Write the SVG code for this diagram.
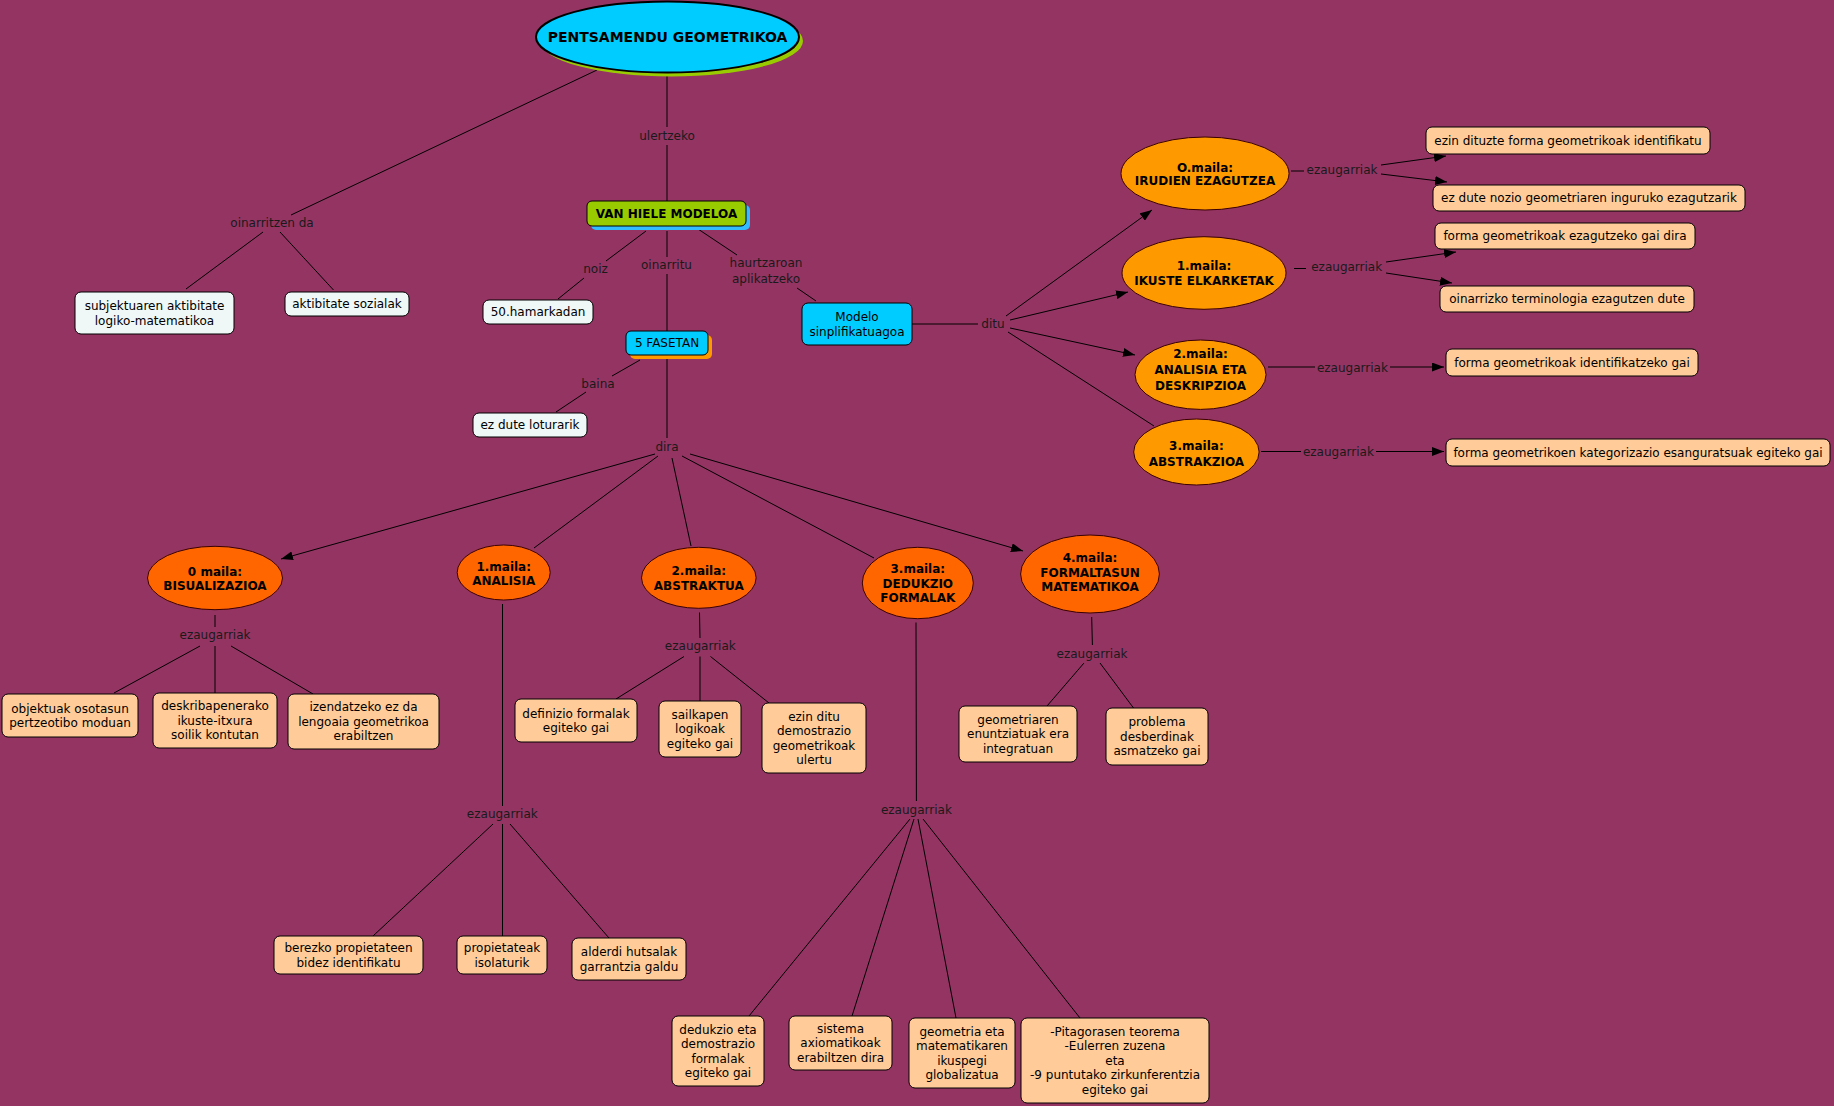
<svg xmlns="http://www.w3.org/2000/svg" width="1834" height="1106" viewBox="0 0 1834 1106">
<defs>
<style>
text{font-family:"DejaVu Sans",Verdana,sans-serif;font-size:12px;text-anchor:middle;fill:#000}
.b{font-weight:bold}
.lbl{fill:#1a1a1a}
.c line{stroke:#000;stroke-width:1}
.box{stroke:#000;stroke-width:1}
.peach{fill:#ffcc99}
.white{fill:#eff7f7}
.cyan{fill:#00ccff}
.lime{fill:#99cc00}
.o1{fill:#ff6600;stroke:#3a0000;stroke-width:1}
.o2{fill:#ff9900;stroke:#3a0000;stroke-width:1}
</style>
<marker id="ar" markerWidth="12" markerHeight="9" refX="12" refY="4.5" orient="auto" markerUnits="userSpaceOnUse">
<path d="M0,0 L12,4.5 L0,9 z" fill="#000"/>
</marker>
</defs>
<rect width="1834" height="1106" fill="#943462"/>

<g id="connectors" class="c">
<line x1="597" y1="70" x2="291" y2="215"/>
<line x1="263" y1="232" x2="186" y2="289"/>
<line x1="280" y1="232" x2="333.5" y2="290"/>
<line x1="667" y1="73" x2="667" y2="127"/>
<line x1="667" y1="145" x2="667" y2="201"/>
<line x1="646" y1="231" x2="606" y2="261"/>
<line x1="584" y1="278" x2="558" y2="299"/>
<line x1="667" y1="231" x2="667" y2="257"/>
<line x1="667" y1="274" x2="667" y2="331"/>
<line x1="698" y1="229" x2="737" y2="255"/>
<line x1="797" y1="288" x2="816" y2="301"/>
<line x1="640" y1="360" x2="612" y2="376"/>
<line x1="586" y1="392" x2="556" y2="412"/>
<line x1="667" y1="359" x2="667" y2="438"/>
<line x1="655" y1="454" x2="281" y2="559" marker-end="url(#ar)"/>
<line x1="658" y1="456" x2="534" y2="548"/>
<line x1="672" y1="458" x2="691" y2="546"/>
<line x1="682" y1="456" x2="874" y2="558"/>
<line x1="690" y1="454" x2="1023" y2="551" marker-end="url(#ar)"/>
<line x1="912" y1="324" x2="978" y2="324"/>
<line x1="1006" y1="316" x2="1152" y2="210" marker-end="url(#ar)"/>
<line x1="1010" y1="320" x2="1128" y2="292" marker-end="url(#ar)"/>
<line x1="1010" y1="328" x2="1135" y2="355" marker-end="url(#ar)"/>
<line x1="1008" y1="332" x2="1154" y2="426"/>
<line x1="1291" y1="171" x2="1304" y2="171"/>
<line x1="1381" y1="165" x2="1446" y2="156" marker-end="url(#ar)"/>
<line x1="1381" y1="174" x2="1447" y2="182" marker-end="url(#ar)"/>
<line x1="1294" y1="268.5" x2="1306" y2="268.5"/>
<line x1="1386" y1="262" x2="1456" y2="252" marker-end="url(#ar)"/>
<line x1="1386" y1="273" x2="1452" y2="283" marker-end="url(#ar)"/>
<line x1="1268" y1="367" x2="1315" y2="367"/>
<line x1="1390" y1="367" x2="1444" y2="367" marker-end="url(#ar)"/>
<line x1="1261" y1="451.5" x2="1301" y2="451.5"/>
<line x1="1376" y1="451.5" x2="1444" y2="451.5" marker-end="url(#ar)"/>
<line x1="215" y1="615" x2="215" y2="627"/>
<line x1="200" y1="646" x2="114" y2="693"/>
<line x1="215" y1="646" x2="215" y2="693"/>
<line x1="231" y1="646" x2="313" y2="694"/>
<line x1="502.5" y1="604" x2="502.5" y2="806"/>
<line x1="493" y1="824" x2="373" y2="936"/>
<line x1="502.5" y1="824" x2="502.5" y2="936"/>
<line x1="510" y1="824" x2="609" y2="938"/>
<line x1="699.5" y1="612.5" x2="700" y2="638"/>
<line x1="684" y1="656.5" x2="616" y2="699"/>
<line x1="700" y1="656.5" x2="700" y2="701"/>
<line x1="710.5" y1="656.5" x2="769" y2="703"/>
<line x1="916" y1="622.5" x2="916.4" y2="801"/>
<line x1="910" y1="819" x2="749" y2="1016"/>
<line x1="914" y1="819" x2="852" y2="1016"/>
<line x1="918" y1="819" x2="956" y2="1018"/>
<line x1="923" y1="819" x2="1080" y2="1018"/>
<line x1="1091.7" y1="617" x2="1092.4" y2="645"/>
<line x1="1084" y1="663" x2="1047" y2="706"/>
<line x1="1100" y1="663" x2="1133.5" y2="708"/>
</g>

<g id="labels">
<text class="lbl" x="272" y="227.3">oinarritzen da</text>
<text class="lbl" x="667" y="140">ulertzeko</text>
<text class="lbl" x="595.5" y="273.3">noiz</text>
<text class="lbl" x="666.5" y="269.3">oinarritu</text>
<text class="lbl" x="766" y="267.3">haurtzaroan</text>
<text class="lbl" x="766" y="282.7">aplikatzeko</text>
<text class="lbl" x="598" y="388.3">baina</text>
<text class="lbl" x="667" y="451.3">dira</text>
<text class="lbl" x="993" y="328.3">ditu</text>
<text class="lbl" x="1342" y="174.3">ezaugarriak</text>
<text class="lbl" x="1346.7" y="271">ezaugarriak</text>
<text class="lbl" x="1352.4" y="371.6">ezaugarriak</text>
<text class="lbl" x="1338.4" y="456">ezaugarriak</text>
<text class="lbl" x="215" y="639.3">ezaugarriak</text>
<text class="lbl" x="502.3" y="818.3">ezaugarriak</text>
<text class="lbl" x="700.3" y="650.3">ezaugarriak</text>
<text class="lbl" x="916.4" y="813.6">ezaugarriak</text>
<text class="lbl" x="1092" y="657.6">ezaugarriak</text>
</g>

<g id="root">
<ellipse cx="671.5" cy="41" rx="131.5" ry="35.5" fill="#99cc00"/>
<ellipse cx="667.5" cy="37" rx="131.5" ry="35.5" fill="#00ccff" stroke="#000" stroke-width="2"/>
<text class="b" x="667.5" y="42" style="font-size:14px">PENTSAMENDU GEOMETRIKOA</text>
</g>

<g id="subjektuaren"><rect class="box white" x="75" y="292" width="159" height="42" rx="6"/><text x="154.5" y="310">subjektuaren aktibitate</text><text x="154.5" y="324.5">logiko-matematikoa</text></g>
<g id="sozialak"><rect class="box white" x="285" y="292" width="124" height="24" rx="6"/><text x="347" y="308.3">aktibitate sozialak</text></g>
<g id="vanhiele"><rect x="591" y="205" width="159" height="25" rx="5" fill="#33bbff"/><rect class="box lime" x="587" y="201" width="159" height="25" rx="5"/><text class="b" x="666.5" y="217.8">VAN HIELE MODELOA</text></g>
<g id="hamarkadan"><rect class="box white" x="483" y="300" width="110" height="24" rx="6"/><text x="538" y="316.3">50.hamarkadan</text></g>
<g id="fasetan"><rect x="630" y="335" width="82" height="24" rx="5" fill="#ff9900"/><rect class="box cyan" x="626" y="331" width="82" height="24" rx="5"/><text x="667" y="347.3">5 FASETAN</text></g>
<g id="loturarik"><rect class="box white" x="473" y="413" width="114" height="24" rx="6"/><text x="530" y="429.3">ez dute loturarik</text></g>
<g id="modelo"><rect class="box cyan" x="802" y="303" width="110" height="42" rx="6"/><text x="857" y="321">Modelo</text><text x="857" y="335.5">sinplifikatuagoa</text></g>

<g id="r-maila0"><ellipse class="o2" cx="1205" cy="173.5" rx="84" ry="36.5"/><text class="b" x="1205" y="171.6">O.maila:</text><text class="b" x="1205" y="185.3">IRUDIEN EZAGUTZEA</text></g>
<g id="r-maila1"><ellipse class="o2" cx="1204" cy="273" rx="82" ry="36.3"/><text class="b" x="1204" y="270">1.maila:</text><text class="b" x="1204" y="285">IKUSTE ELKARKETAK</text></g>
<g id="r-maila2"><ellipse class="o2" cx="1200.5" cy="374.7" rx="65.5" ry="34.7"/><text class="b" x="1200.5" y="358.3">2.maila:</text><text class="b" x="1200.5" y="374.3">ANALISIA ETA</text><text class="b" x="1200.5" y="389.6">DESKRIPZIOA</text></g>
<g id="r-maila3"><ellipse class="o2" cx="1196.4" cy="452" rx="62.7" ry="33"/><text class="b" x="1196.4" y="450.3">3.maila:</text><text class="b" x="1196.4" y="465.6">ABSTRAKZIOA</text></g>

<g id="r0a"><rect class="box peach" x="1426" y="127" width="284" height="27" rx="6"/><text x="1568" y="144.8">ezin dituzte forma geometrikoak identifikatu</text></g>
<g id="r0b"><rect class="box peach" x="1433" y="185" width="312" height="26" rx="6"/><text x="1589" y="202.3">ez dute nozio geometriaren inguruko ezagutzarik</text></g>
<g id="r1a"><rect class="box peach" x="1435" y="223" width="260" height="26" rx="6"/><text x="1565" y="240.3">forma geometrikoak ezagutzeko gai dira</text></g>
<g id="r1b"><rect class="box peach" x="1440" y="286" width="254" height="26" rx="6"/><text x="1567" y="303.3">oinarrizko terminologia ezagutzen dute</text></g>
<g id="r2"><rect class="box peach" x="1446" y="349" width="252" height="27" rx="6"/><text x="1572" y="366.8">forma geometrikoak identifikatzeko gai</text></g>
<g id="r3"><rect class="box peach" x="1446" y="439" width="384" height="27" rx="6"/><text x="1638" y="456.8">forma geometrikoen kategorizazio esanguratsuak egiteko gai</text></g>

<g id="b-maila0"><ellipse class="o1" cx="215" cy="578" rx="67.5" ry="31.7"/><text class="b" x="215" y="576">0 maila:</text><text class="b" x="215" y="590">BISUALIZAZIOA</text></g>
<g id="b-maila1"><ellipse class="o1" cx="503.7" cy="572.5" rx="46.5" ry="27.5"/><text class="b" x="503.7" y="571">1.maila:</text><text class="b" x="503.7" y="585">ANALISIA</text></g>
<g id="b-maila2"><ellipse class="o1" cx="698.8" cy="577.8" rx="57.3" ry="30.5"/><text class="b" x="698.8" y="575.3">2.maila:</text><text class="b" x="698.8" y="590">ABSTRAKTUA</text></g>
<g id="b-maila3"><ellipse class="o1" cx="917.8" cy="583" rx="55.5" ry="35.7"/><text class="b" x="917.8" y="573.3">3.maila:</text><text class="b" x="917.8" y="587.6">DEDUKZIO</text><text class="b" x="917.8" y="602">FORMALAK</text></g>
<g id="b-maila4"><ellipse class="o1" cx="1090" cy="574" rx="69.4" ry="39"/><text class="b" x="1090" y="562">4.maila:</text><text class="b" x="1090" y="576.5">FORMALTASUN</text><text class="b" x="1090" y="591">MATEMATIKOA</text></g>

<g id="objektuak"><rect class="box peach" x="2" y="694" width="136" height="43" rx="6"/><text x="70" y="712.5">objektuak osotasun</text><text x="70" y="727">pertzeotibo moduan</text></g>
<g id="deskribapenerako"><rect class="box peach" x="153" y="693" width="124" height="55" rx="6"/><text x="215" y="710.3">deskribapenerako</text><text x="215" y="724.8">ikuste-itxura</text><text x="215" y="739.3">soilik kontutan</text></g>
<g id="izendatzeko"><rect class="box peach" x="288" y="694" width="151" height="55" rx="6"/><text x="363.5" y="711.3">izendatzeko ez da</text><text x="363.5" y="725.8">lengoaia geometrikoa</text><text x="363.5" y="740.3">erabiltzen</text></g>
<g id="berezko"><rect class="box peach" x="274" y="936" width="149" height="38" rx="6"/><text x="348.5" y="952">berezko propietateen</text><text x="348.5" y="966.5">bidez identifikatu</text></g>
<g id="propietateak"><rect class="box peach" x="457" y="936" width="90" height="38" rx="6"/><text x="502" y="952">propietateak</text><text x="502" y="966.5">isolaturik</text></g>
<g id="alderdi"><rect class="box peach" x="572" y="938" width="114" height="42" rx="6"/><text x="629" y="956">alderdi hutsalak</text><text x="629" y="970.5">garrantzia galdu</text></g>
<g id="definizio"><rect class="box peach" x="515" y="699" width="122" height="43" rx="6"/><text x="576" y="717.5">definizio formalak</text><text x="576" y="732">egiteko gai</text></g>
<g id="sailkapen"><rect class="box peach" x="659" y="701" width="82" height="56" rx="6"/><text x="700" y="718.8">sailkapen</text><text x="700" y="733.3">logikoak</text><text x="700" y="747.8">egiteko gai</text></g>
<g id="ezinditu"><rect class="box peach" x="762" y="703" width="104" height="70" rx="6"/><text x="814" y="720.5">ezin ditu</text><text x="814" y="735">demostrazio</text><text x="814" y="749.5">geometrikoak</text><text x="814" y="764">ulertu</text></g>
<g id="dedukzio"><rect class="box peach" x="672" y="1016" width="92" height="70" rx="6"/><text x="718" y="1033.5">dedukzio eta</text><text x="718" y="1048">demostrazio</text><text x="718" y="1062.5">formalak</text><text x="718" y="1077">egiteko gai</text></g>
<g id="sistema"><rect class="box peach" x="789" y="1016" width="103" height="54" rx="6"/><text x="840.5" y="1032.8">sistema</text><text x="840.5" y="1047.3">axiomatikoak</text><text x="840.5" y="1061.8">erabiltzen dira</text></g>
<g id="geometria"><rect class="box peach" x="909" y="1018" width="106" height="70" rx="6"/><text x="962" y="1035.5">geometria eta</text><text x="962" y="1050">matematikaren</text><text x="962" y="1064.5">ikuspegi</text><text x="962" y="1079">globalizatua</text></g>
<g id="pitagoras"><rect class="box peach" x="1021" y="1018" width="188" height="85" rx="6"/><text x="1115" y="1035.8">-Pitagorasen teorema</text><text x="1115" y="1050.3">-Eulerren zuzena</text><text x="1115" y="1064.8">eta</text><text x="1115" y="1079.3">-9 puntutako zirkunferentzia</text><text x="1115" y="1093.8">egiteko gai</text></g>
<g id="geometriaren"><rect class="box peach" x="959" y="706" width="118" height="56" rx="6"/><text x="1018" y="723.8">geometriaren</text><text x="1018" y="738.3">enuntziatuak era</text><text x="1018" y="752.8">integratuan</text></g>
<g id="problema"><rect class="box peach" x="1106" y="708" width="102" height="57" rx="6"/><text x="1157" y="726.3">problema</text><text x="1157" y="740.8">desberdinak</text><text x="1157" y="755.3">asmatzeko gai</text></g>
</svg>
